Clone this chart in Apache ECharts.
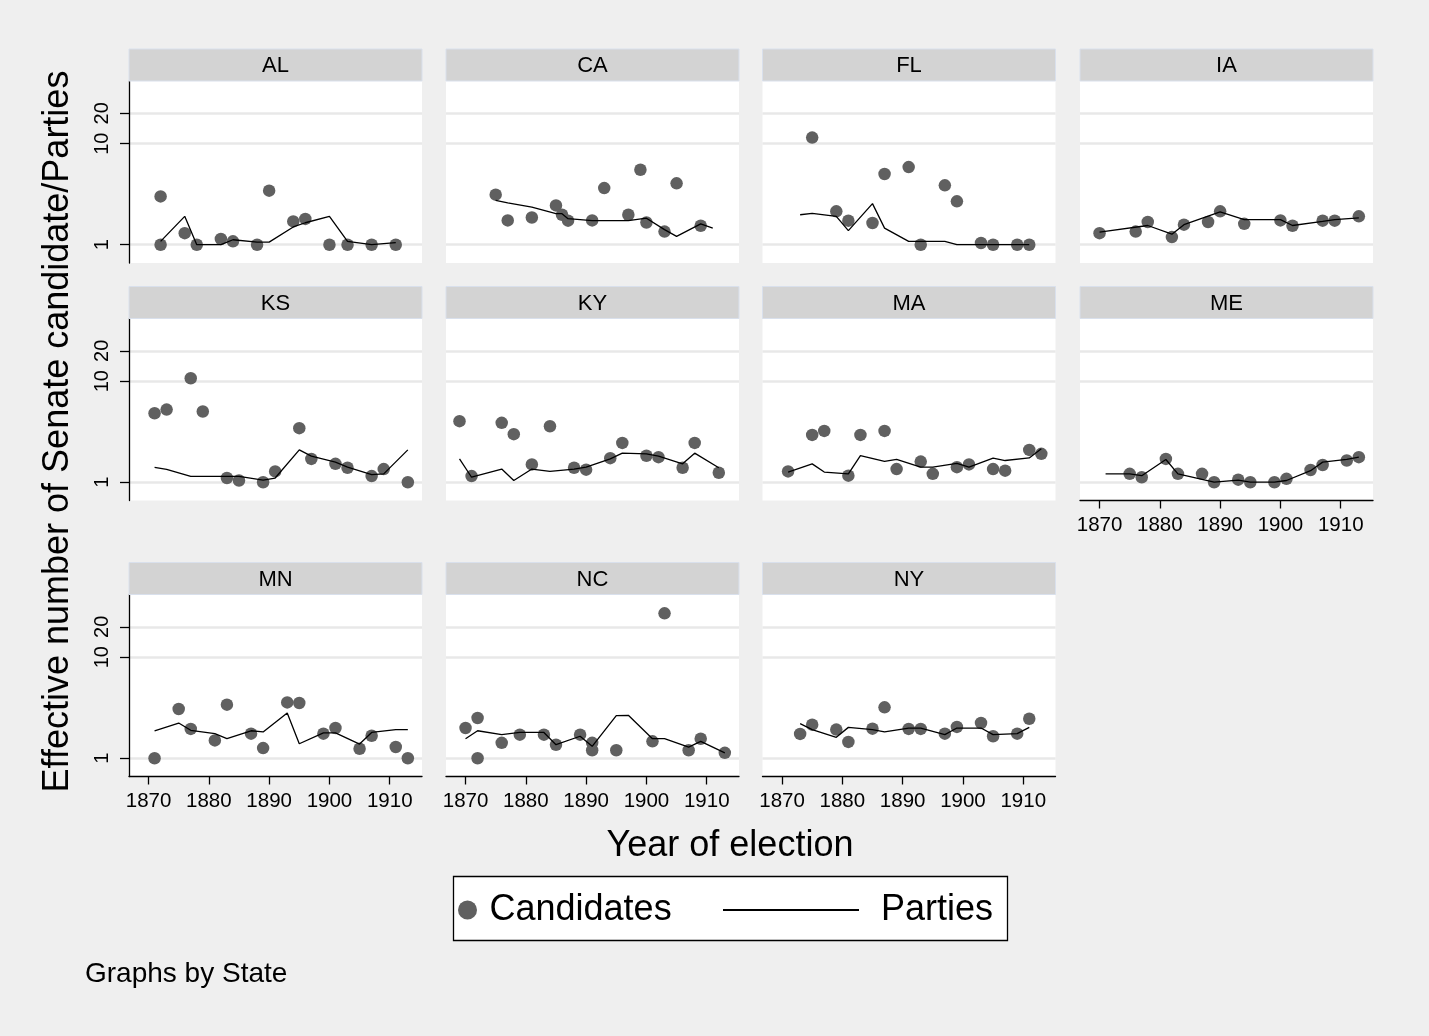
<!DOCTYPE html>
<html>
<head>
<meta charset="utf-8">
<script src="https://cdn.jsdelivr.net/npm/echarts@6/dist/echarts.min.js"></script>
<style>
html,body{margin:0;padding:0;background:#efefef;}
#chart{width:1429px;height:1036px;}
</style>
</head>
<body>
<div id="chart"></div>
<script>
// ---------------- DATA ----------------
const states = ['AL','CA','FL','IA','KS','KY','MA','ME','MN','NC','NY'];
const xTicks = [1870, 1880, 1890, 1900, 1910];
const yTicks = [1, 10, 20];

// Candidates: [year, effective number]
const candAL = [[1872,3.01],[1872,1.0],[1876,1.30],[1878,1.0],[1882,1.14],[1884,1.08],[1888,1.0],[1890,3.43],[1894,1.70],[1896,1.80],[1900,1.0],[1903,1.0],[1907,1.0],[1911,1.0]];
const candCA = [[1875,3.13],[1877,1.74],[1881,1.86],[1885,2.45],[1886,1.98],[1887,1.73],[1891,1.74],[1893,3.64],[1897,1.98],[1899,5.53],[1900,1.66],[1903,1.35],[1905,4.05],[1909,1.54]];
const candFL = [[1875,11.5],[1879,2.14],[1881,1.73],[1885,1.64],[1887,5.01],[1891,5.87],[1893,1.0],[1897,3.87],[1899,2.69],[1903,1.04],[1905,1.0],[1909,1.0],[1911,1.0]];
const candIA = [[1870,1.30],[1876,1.35],[1878,1.68],[1882,1.19],[1884,1.58],[1888,1.68],[1890,2.14],[1894,1.61],[1900,1.74],[1902,1.54],[1907,1.73],[1909,1.73],[1913,1.91]];
const candKS = [[1871,4.82],[1873,5.24],[1877,10.7],[1879,5.01],[1883,1.10],[1885,1.04],[1889,1.0],[1891,1.28],[1895,3.43],[1897,1.70],[1901,1.52],[1903,1.39],[1907,1.15],[1909,1.35],[1913,1.0]];
const candKY = [[1869,4.02],[1871,1.15],[1876,3.87],[1878,2.99],[1881,1.50],[1884,3.58],[1888,1.39],[1890,1.33],[1894,1.73],[1896,2.45],[1900,1.83],[1902,1.77],[1906,1.39],[1908,2.45],[1912,1.24]];
const candMA = [[1871,1.28],[1875,2.94],[1877,3.22],[1881,1.16],[1883,2.94],[1887,3.22],[1889,1.35],[1893,1.60],[1895,1.21],[1899,1.41],[1901,1.50],[1905,1.35],[1907,1.30],[1911,2.09],[1913,1.91]];
const candME = [[1875,1.21],[1877,1.12],[1881,1.70],[1883,1.21],[1887,1.21],[1889,1.0],[1893,1.06],[1895,1.0],[1899,1.0],[1901,1.08],[1905,1.32],[1907,1.48],[1911,1.64],[1913,1.77]];
const candMN = [[1871,1.0],[1875,3.07],[1877,1.95],[1881,1.50],[1883,3.39],[1887,1.75],[1889,1.26],[1893,3.57],[1895,3.52],[1899,1.75],[1901,1.99],[1905,1.24],[1907,1.67],[1911,1.29],[1913,1.0]];
const candNC = [[1870,1.99],[1872,2.50],[1872,1.0],[1876,1.42],[1879,1.71],[1883,1.71],[1885,1.36],[1889,1.71],[1891,1.42],[1891,1.20],[1895,1.20],[1901,1.47],[1903,27.2],[1907,1.20],[1909,1.56],[1913,1.13]];
const candNY = [[1873,1.74],[1875,2.15],[1879,1.92],[1881,1.45],[1885,1.96],[1887,3.19],[1891,1.95],[1893,1.95],[1897,1.75],[1899,2.04],[1903,2.23],[1905,1.65],[1909,1.75],[1911,2.46]];

// Parties: [year, effective number]
const partyAL = [[1872,1.08],[1876,1.91],[1878,1.0],[1882,1.0],[1884,1.12],[1888,1.06],[1890,1.06],[1894,1.50],[1896,1.65],[1900,1.91],[1903,1.08],[1907,1.0],[1911,1.05]];
const partyCA = [[1875,2.75],[1877,2.59],[1881,2.36],[1885,2.03],[1886,2.03],[1887,1.81],[1891,1.73],[1897,1.73],[1900,1.83],[1903,1.41],[1905,1.21],[1909,1.61],[1911,1.46]];
const partyFL = [[1873,1.98],[1875,2.04],[1879,1.91],[1881,1.38],[1885,2.55],[1887,1.46],[1891,1.08],[1893,1.08],[1897,1.08],[1899,1.0],[1903,1.0],[1905,1.0],[1909,1.0],[1911,1.0]];
const partyIA = [[1870,1.33],[1878,1.55],[1882,1.27],[1884,1.58],[1890,2.11],[1894,1.77],[1900,1.77],[1902,1.55],[1907,1.70],[1909,1.77],[1913,1.84]];
const partyKS = [[1871,1.40],[1873,1.34],[1877,1.14],[1883,1.14],[1885,1.14],[1889,1.05],[1891,1.10],[1895,2.09],[1897,1.81],[1901,1.58],[1903,1.41],[1907,1.19],[1909,1.21],[1913,2.09]];
const partyKY = [[1869,1.70],[1871,1.12],[1876,1.35],[1878,1.04],[1881,1.35],[1884,1.28],[1888,1.35],[1890,1.41],[1894,1.70],[1896,1.94],[1900,1.91],[1902,1.81],[1906,1.52],[1908,1.94],[1912,1.39]];
const partyMA = [[1871,1.26],[1875,1.52],[1877,1.26],[1881,1.21],[1883,1.83],[1887,1.61],[1889,1.68],[1893,1.41],[1895,1.41],[1899,1.54],[1901,1.41],[1905,1.73],[1907,1.64],[1911,1.74],[1913,2.14]];
const partyME = [[1871,1.21],[1875,1.21],[1877,1.16],[1881,1.68],[1883,1.21],[1889,1.0],[1893,1.05],[1895,1.0],[1899,1.0],[1901,1.04],[1905,1.30],[1907,1.58],[1911,1.68],[1913,1.77]];
const partyMN = [[1871,1.87],[1875,2.23],[1877,1.89],[1881,1.75],[1883,1.56],[1887,1.87],[1889,1.82],[1893,2.80],[1895,1.39],[1899,1.78],[1901,1.78],[1905,1.38],[1907,1.80],[1911,1.92],[1913,1.92]];
const partyNC = [[1870,1.56],[1872,1.87],[1876,1.71],[1879,1.80],[1883,1.80],[1885,1.36],[1889,1.65],[1891,1.31],[1895,2.64],[1897,2.66],[1901,1.56],[1903,1.56],[1907,1.29],[1909,1.47],[1913,1.13]];
const partyNY = [[1873,2.20],[1875,1.92],[1879,1.61],[1881,2.02],[1885,1.92],[1887,1.82],[1891,1.99],[1893,1.99],[1897,1.71],[1899,1.99],[1903,1.99],[1905,1.71],[1909,1.75],[1911,2.02]];

const candidates = {AL:candAL,CA:candCA,FL:candFL,IA:candIA,KS:candKS,KY:candKY,MA:candMA,ME:candME,MN:candMN,NC:candNC,NY:candNY};
const parties = {AL:partyAL,CA:partyCA,FL:partyFL,IA:partyIA,KS:partyKS,KY:partyKY,MA:partyMA,ME:partyME,MN:partyMN,NC:partyNC,NY:partyNY};

// ---------------- LAYOUT ----------------
const FONT = '"Liberation Sans", Arial, Helvetica, sans-serif';
const colLeft = [129, 446, 762.5, 1080];
const rowTop = [81, 318.5, 594.5];
const PW = 293, PH = 182, STRIP_H = 32;
const X_MIN = 1866.76, X_MAX = 1915.35;
const Y_MIN = 0.659, Y_MAX = 41.8;
const bottomPanels = ['ME','MN','NC','NY'];

const grids = [], xAxes = [], yAxes = [], series = [], graphics = [];

states.forEach((st, i) => {
  const row = Math.floor(i / 4), col = i % 4;
  const left = colLeft[col], top = rowTop[row];
  grids.push({left: left, top: top, width: PW, height: PH, show: true,
              backgroundColor: '#ffffff', borderWidth: 0, containLabel: false});
  const showX = bottomPanels.indexOf(st) >= 0;
  xAxes.push({
    gridIndex: i, type: 'value', min: X_MIN, max: X_MAX,
    show: showX,
    axisLine: {show: showX, onZero: false, lineStyle: {color: '#000', width: 1.3}},
    axisTick: {show: showX, inside: false, length: 8, customValues: xTicks, lineStyle: {color: '#000', width: 1.3}},
    axisLabel: {show: showX, customValues: xTicks, margin: 14, color: '#000', fontSize: 20.5, fontFamily: FONT,
                formatter: v => String(Math.round(v))},
    splitLine: {show: false}
  });
  const showY = col === 0;
  yAxes.push({
    gridIndex: i, type: 'log', logBase: 10, min: Y_MIN, max: Y_MAX,
    axisLine: {show: showY, onZero: false, lineStyle: {color: '#000', width: 1.3}},
    axisTick: {show: showY, inside: false, length: 9, customValues: yTicks, lineStyle: {color: '#000', width: 1.3}},
    axisLabel: {show: showY, customValues: yTicks, rotate: 90, margin: 17, color: '#000', fontSize: 20, fontFamily: FONT,
                formatter: v => String(Math.round(v))},
    splitLine: {show: true, lineStyle: {color: '#e8e8e8', width: 2.6}},
    minorTick: {show: false}, minorSplitLine: {show: false}
  });
  series.push({
    name: 'Candidates', type: 'scatter', xAxisIndex: i, yAxisIndex: i,
    data: candidates[st], symbol: 'circle', symbolSize: 12.5,
    itemStyle: {color: '#606060', opacity: 1}, z: 2, silent: true
  });
  series.push({
    name: 'Parties', type: 'line', xAxisIndex: i, yAxisIndex: i,
    data: parties[st], symbol: 'none', showSymbol: false,
    lineStyle: {color: '#000', width: 1.3}, itemStyle: {color: '#000'}, z: 3, silent: true
  });
  // strip
  graphics.push({type: 'rect', shape: {x: left, y: top - STRIP_H, width: PW, height: STRIP_H},
    style: {fill: '#d3d3d3', stroke: '#d9e0ec', lineWidth: 1}, z: 1, silent: true});
  graphics.push({type: 'text', x: left + PW / 2, y: top - STRIP_H / 2 + 1,
    style: {text: st, fill: '#000', font: '22px ' + FONT, textAlign: 'center', textVerticalAlign: 'middle'}, z: 2, silent: true});
});

// titles
graphics.push({type: 'text', x: 58, y: 431.5, rotation: Math.PI / 2,
  style: {text: 'Effective number of Senate candidate/Parties', fill: '#000', font: '36px ' + FONT,
          textAlign: 'center', textVerticalAlign: 'middle'}, silent: true});
graphics.push({type: 'text', x: 730, y: 846,
  style: {text: 'Year of election', fill: '#000', font: '36px ' + FONT,
          textAlign: 'center', textVerticalAlign: 'middle'}, silent: true});
graphics.push({type: 'text', x: 85, y: 974,
  style: {text: 'Graphs by State', fill: '#000', font: '28px ' + FONT,
          textAlign: 'left', textVerticalAlign: 'middle'}, silent: true});
// legend box
graphics.push({type: 'rect', shape: {x: 453.5, y: 876.5, width: 554, height: 64},
  style: {fill: '#ffffff', stroke: '#000', lineWidth: 1.3}, z: 1, silent: true});

const option = {
  backgroundColor: '#efefef',
  animation: false,
  grid: grids,
  xAxis: xAxes,
  yAxis: yAxes,
  series: series,
  graphic: graphics,
  legend: [
    {data: ['Candidates'], left: 458, top: 892, padding: 0, itemWidth: 34, itemHeight: 19,
     icon: 'circle', selectedMode: false, z: 10,
     textStyle: {fontSize: 36, color: '#000', fontFamily: FONT}},
    {data: ['Parties'], left: 722, top: 892, padding: 0, itemWidth: 136, itemHeight: 2,
     selectedMode: false, z: 10, itemStyle: {opacity: 0},
     textStyle: {fontSize: 36, color: '#000', fontFamily: FONT, padding: [0, 0, 0, 17]}}
  ]
};

const chart = echarts.init(document.getElementById('chart'), null, {renderer: 'canvas'});
chart.setOption(option);
</script>
</body>
</html>
